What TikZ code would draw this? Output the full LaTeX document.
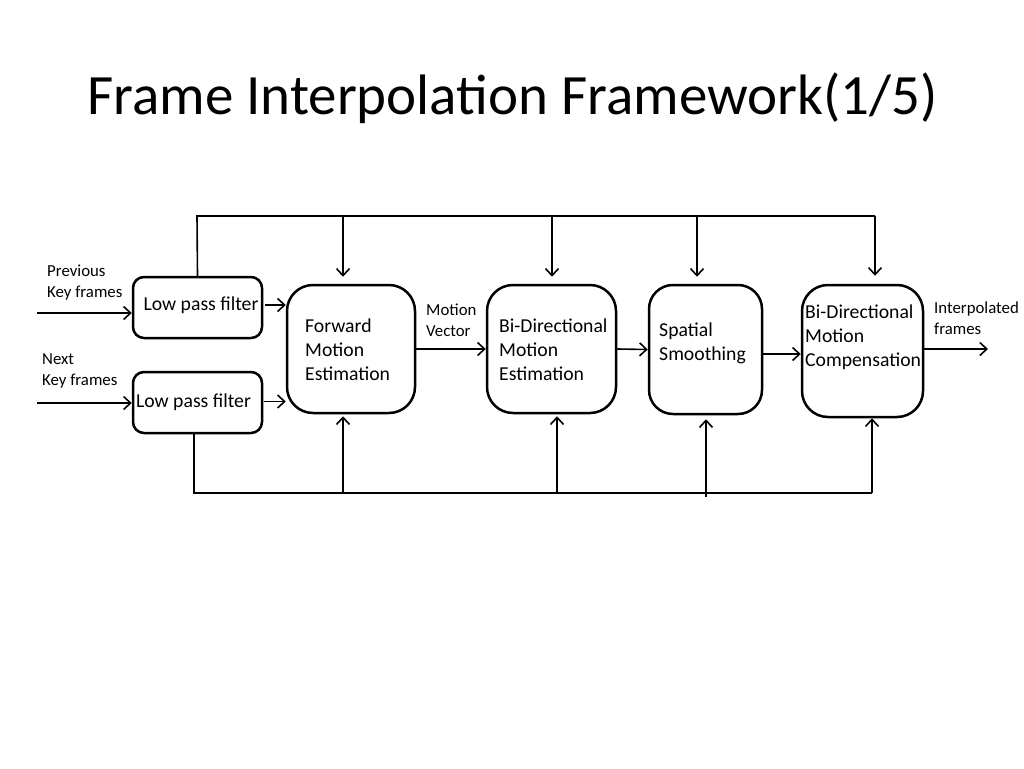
\documentclass[tikz,border=0pt]{standalone}
\usepackage{fontspec}
\setmainfont{Carlito}
\usetikzlibrary{arrows.meta}
\begin{document}
\begin{tikzpicture}[x=1pt,y=-1pt,
  box/.style={draw,line width=2.5pt,rounded corners=#1,inner sep=0pt},
  box/.default=12pt,
  conn/.style={line width=1.6pt},
  arr/.style={conn,-{Straight Barb[length=7pt,width=13pt]}},
  boxtext/.style={font=\fontsize{19.7}{24}\selectfont,align=left,inner sep=0pt,anchor=west},
  small/.style={font=\fontsize{16.8}{21}\selectfont,align=left,inner sep=0pt,anchor=west}]
\useasboundingbox (0,0) rectangle (1024,768);
% title
\node[font=\fontsize{57}{60}\selectfont,anchor=base,inner sep=0pt] (title) at (512.5,114) {Frame Interpolation Framework(1/5)};
% boxes
\node[box=11pt,minimum width=129pt,minimum height=61pt] (lpf1) at (197.5,307.5) {};
\node[box=11pt,minimum width=129pt,minimum height=61pt] (lpf2) at (197.5,402.5) {};
\node[box=26pt,minimum width=128pt,minimum height=128pt] (fme) at (351,349) {};
\node[box=26pt,minimum width=129pt,minimum height=128pt] (bdme) at (551.5,349) {};
\node[box=24pt,minimum width=113pt,minimum height=129pt] (sps) at (705.5,349.5) {};
\node[box=26pt,minimum width=121pt,minimum height=132pt] (bdmc) at (862.5,351) {};
% box texts
\node[font=\fontsize{19.7}{24}\selectfont,inner sep=0pt] (lpf1t) at (201,305) {Low pass filter};
\node[font=\fontsize{19.7}{24}\selectfont,inner sep=0pt] (lpf2t) at (193.5,402) {Low pass filter};
\node[boxtext] (fmet) at (305,350) {Forward\\Motion\\Estimation};
\node[boxtext] (bdmet) at (499,350) {Bi-Directional\\Motion\\Estimation};
\node[boxtext] (spst) at (659,343) {Spatial\\Smoothing};
\node[boxtext] (bdmct) at (805,337) {Bi-Directional\\Motion\\Compensation};
% small labels
\node[small] (prev) at (47,283) {Previous\\Key frames};
\node[small] (next) at (42,370.5) {Next\\Key frames};
\node[small] (mv) at (426,320) {Motion\\Vector};
\node[small] (ip) at (934,318.5) {Interpolated\\frames};
% inputs and horizontal links
\coordinate (in1) at (37,313);
\coordinate (in2) at (37,403);
\coordinate (out) at (988,349);
\coordinate (y1) at (0,305);
\coordinate (y2) at (0,401.5);
\coordinate (y3) at (0,354);
\draw[arr] (in1) -- (in1 -| lpf1.west);
\draw[arr] (in2) -- (in2 -| lpf2.west);
\draw[arr] ([xshift=2pt]lpf1.east |- y1) -- (fme.west |- y1);
\draw[arr] ([xshift=0.5pt]lpf2.east |- y2) -- (fme.west |- y2);
\draw[arr] (fme.east) -- (bdme.west);
\draw[arr] (bdme.east) -- (sps.west);
\draw[arr] (sps.east |- y3) -- (bdmc.west |- y3);
\draw[arr] (bdmc.east |- out) -- (out);
% top bus
\coordinate (tl) at (197,216);
\coordinate (tr) at (875,216);
\coordinate (t1) at (343,216);
\coordinate (t2) at (552,216);
\coordinate (t3) at (697,216);
\draw[conn] (lpf1.north) -- (tl) -- (tr);
\draw[arr,shorten >=7pt] (t1) -- (t1 |- fme.north);
\draw[arr,shorten >=7pt] (t2) -- (t2 |- bdme.north);
\draw[arr,shorten >=7pt] (t3) -- (t3 |- sps.north);
\draw[arr,shorten >=8pt] (tr) -- (tr |- bdmc.north);
% bottom bus
\coordinate (bl) at (194,493);
\coordinate (br) at (872,493);
\coordinate (b1) at (343,493);
\coordinate (b2) at (557,493);
\coordinate (b3) at (706,497);
\draw[conn] (bl |- lpf2.south) -- (bl) -- (br);
\draw[arr,shorten >=2pt] (b1) -- (b1 |- fme.south);
\draw[arr,shorten >=2pt] (b2) -- (b2 |- bdme.south);
\draw[arr,shorten >=4pt] (b3) -- (b3 |- sps.south);
\draw[arr] (br) -- (br |- bdmc.south);
\end{tikzpicture}
\end{document}
